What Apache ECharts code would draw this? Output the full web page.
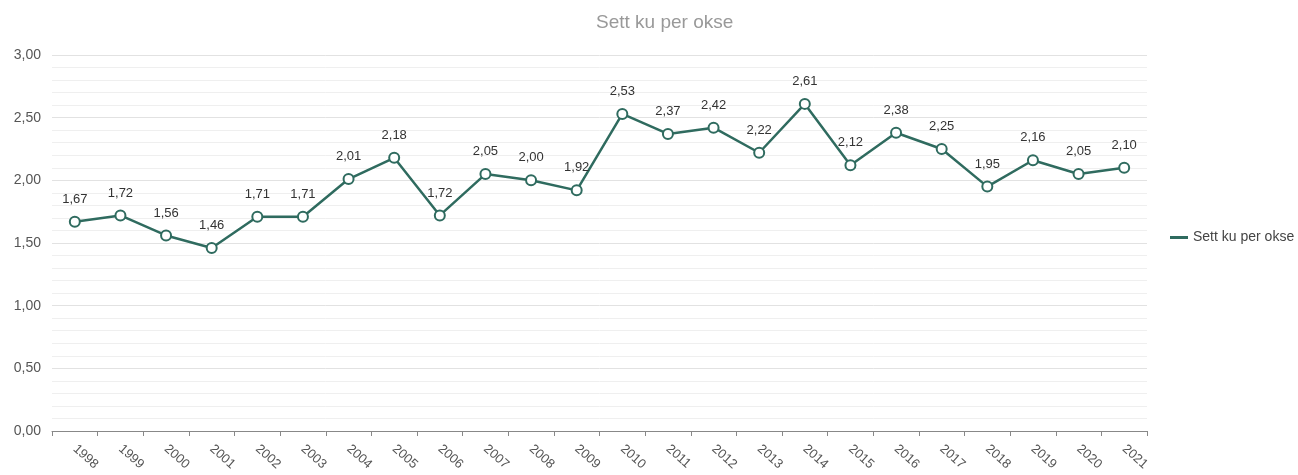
<!DOCTYPE html>
<html>
<head>
<meta charset="utf-8">
<script src="https://cdn.jsdelivr.net/npm/echarts@6/dist/echarts.min.js"></script>
<style>
  html, body { margin: 0; padding: 0; background: #fff; }
  #chart { width: 1298px; height: 475px; }
</style>
</head>
<body>
<div id="chart"></div>
<script>
// data
const years = ['1998', '1999', '2000', '2001', '2002', '2003', '2004', '2005', '2006', '2007', '2008', '2009',
  '2010', '2011', '2012', '2013', '2014', '2015', '2016', '2017', '2018', '2019', '2020', '2021'];
const kuPerOkse = [1.67, 1.72, 1.56, 1.46, 1.71, 1.71, 2.01, 2.18, 1.72, 2.05, 2.00, 1.92,
  2.53, 2.37, 2.42, 2.22, 2.61, 2.12, 2.38, 2.25, 1.95, 2.16, 2.05, 2.10];
const seriesName = 'Sett ku per okse';

const fmt = (v) => v.toFixed(2).replace('.', ',');
const font = 'Arial, Liberation Sans, sans-serif';

const myChart = echarts.init(document.getElementById('chart'));
const option = {
  title: {
    text: seriesName,
    left: 591,
    top: 8,
    textStyle: { color: '#999', fontSize: 19, fontWeight: 'normal', fontFamily: font },
  },
  legend: {
    orient: 'vertical',
    left: 1165,
    top: 'middle',
    itemWidth: 18,
    itemHeight: 3,
    itemGap: 8,
    icon: 'rect',
    textStyle: { color: '#444', fontSize: 14, fontFamily: font },
    data: [seriesName],
  },
  grid: {
    left: 52,
    right: 151,
    top: 55,
    bottom: 44,
  },
  xAxis: {
    type: 'category',
    boundaryGap: true,
    data: years,
    axisLine: { lineStyle: { color: '#888' } },
    axisTick: { show: true, lineStyle: { color: '#888' } },
    axisLabel: {
      rotate: -42,
      color: '#555',
      fontSize: 13,
      margin: 16,
      fontFamily: font,
    },
  },
  yAxis: {
    type: 'value',
    min: 0,
    max: 3,
    interval: 0.5,
    axisLine: { show: false },
    axisTick: { show: false },
    axisLabel: {
      color: '#555',
      fontSize: 14,
      margin: 11,
      formatter: fmt,
      fontFamily: font,
    },
    splitLine: { lineStyle: { color: '#e2e2e2' } },
    minorTick: { show: false, splitNumber: 5 },
    minorSplitLine: { show: true, lineStyle: { color: '#efefef' } },
  },
  series: [{
    name: seriesName,
    type: 'line',
    data: kuPerOkse,
    symbol: 'emptyCircle',
    symbolSize: 10,
    lineStyle: { width: 2.5, color: '#2f6b5f' },
    itemStyle: { color: '#2f6b5f', borderWidth: 2.5 },
    label: {
      show: true,
      position: 'top',
      distance: 10,
      color: '#333',
      fontSize: 13,
      fontFamily: font,
      formatter: (p) => fmt(p.value),
    },
  }],
  animation: false,
};
myChart.setOption(option);
</script>
</body>
</html>
